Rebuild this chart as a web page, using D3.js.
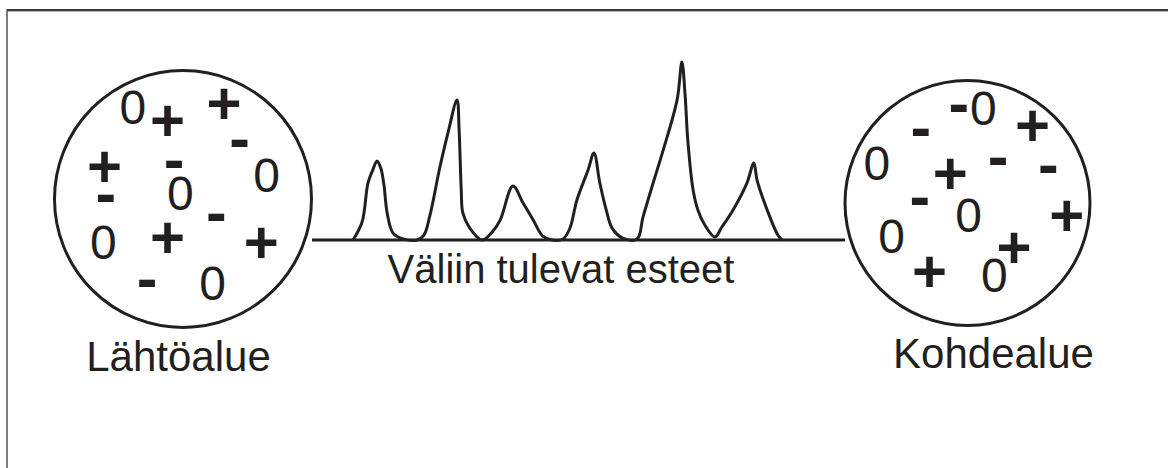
<!DOCTYPE html>
<html><head><meta charset="utf-8">
<script src="https://cdn.jsdelivr.net/npm/d3@7/dist/d3.min.js"></script>
<style>html,body{margin:0;padding:0;background:#fff;}svg{display:block;}</style>
</head><body>
<script>
// ---- data ----
const leftTitle = "Lähtöalue";
const rightTitle = "Kohdealue";
const middleTitle = "Väliin tulevat esteet";

// symbols inside source circle: [glyph, u, v] in circle-normalized units (-1..1, v up)
const leftGlyphs = ["0","+","+","-","+","-","0","-","0","-","0","+","+","-","0"];
const leftU = [-0.39,-0.12,0.32,0.44,-0.61,-0.07,0.65,-0.60,-0.02,0.26,-0.62,-0.12,0.61,-0.28,0.23];
const leftV = [0.72,0.61,0.74,0.44,0.25,0.27,0.19,0.01,0.05,-0.14,-0.33,-0.30,-0.34,-0.65,-0.65];

const rightGlyphs = ["-","0","+","-","0","+","-","-","-","0","+","0","+","+","0"];
const rightU = [-0.07,0.13,0.53,-0.38,-0.74,-0.14,0.25,0.66,-0.39,0.01,0.81,-0.62,0.38,-0.31,0.22];
const rightV = [0.78,0.78,0.63,0.58,0.33,0.24,0.34,0.28,0.02,-0.10,-0.10,-0.27,-0.36,-0.56,-0.59];

// obstacle profile along the connecting line: distance (0..100) and height (0..100)
const ridgeDist = [7.7,9.4,10.5,11.4,12.2,12.9,13.5,14.1,15.2,17.1,19.7,
  21.0,22.1,24.0,25.5,27.2,27.6,28.0,28.3,29.6,31.9,
  33.8,35.3,37.7,39.6,41.5,43.3,45.0,47.1,
  48.4,49.7,51.8,52.9,54.0,55.2,56.3,58.3,61.0,
  62.1,64.0,65.9,68.5,69.4,70.0,70.5,71.5,72.4,73.7,75.6,
  76.9,79.0,81.6,82.9,83.5,85.4,87.4,88.2];
const ridgeHeight = [0,10.1,32.0,39.3,44.4,40.4,30.9,15.2,3.9,0.6,0,
  2.8,13.5,41.0,60.1,78.7,61.8,28.1,15.2,6.7,0,
  4.5,11.2,30.3,20.8,11.2,2.2,0,0.6,
  6.7,22.5,39.3,48.9,32.0,16.9,6.7,1.1,0.6,
  12.9,32.0,50.6,78.7,100,81.5,56.2,28.1,16.9,8.4,1.7,
  7.3,16.9,32.0,43.3,33.7,16.9,2.8,0];

// ---- drawing ----
const W = 1168, H = 468;
const ink = "#231f20";
const svg = d3.select("body").append("svg").attr("width", W).attr("height", H);

// frame (top and left edges)
svg.append("line").attr("x1",7).attr("x2",W).attr("y1",10).attr("y2",10)
  .attr("stroke","#3a3a3a").attr("stroke-width",2);
svg.append("line").attr("x1",7).attr("x2",W).attr("y1",11.5).attr("y2",11.5)
  .attr("stroke","#bbb").attr("stroke-width",1);
svg.append("line").attr("x1",7).attr("x2",7).attr("y1",9).attr("y2",H)
  .attr("stroke","#555").attr("stroke-width",1.5);

const circles = [
  {cx:183, cy:199, r:128.5, g:leftGlyphs, u:leftU, v:leftV, title:leftTitle, tx:178.5, ty:371},
  {cx:967.5, cy:203, r:122.5, g:rightGlyphs, u:rightU, v:rightV, title:rightTitle, tx:993.5, ty:368}
];

// baseline / ridge scales
const x = d3.scaleLinear().domain([0,100]).range([312, 845]);
const y = d3.scaleLinear().domain([0,100]).range([240, 62]);

svg.append("line").attr("x1",x(0)).attr("x2",x(100)).attr("y1",y(0)).attr("y2",y(0))
  .attr("stroke",ink).attr("stroke-width",3);

const pts = ridgeDist.map((d,i)=>[d, ridgeHeight[i]]);
svg.append("path").datum(pts)
  .attr("d", d3.line().x(d=>x(d[0])).y(d=>y(d[1])).curve(d3.curveCatmullRom.alpha(0.5)))
  .attr("fill","none").attr("stroke",ink).attr("stroke-width",3).attr("stroke-linejoin","round");

const glyphStyle = {
  "0": {size:48, weight:"normal", dy:0.358},
  "+": {size:60, weight:"bold", dy:0.34},
  "-": {size:62, weight:"bold", dy:0.26}
};

circles.forEach(c=>{
  svg.append("circle").attr("cx",c.cx).attr("cy",c.cy).attr("r",c.r)
    .attr("fill","none").attr("stroke",ink).attr("stroke-width",3);
  const sx = d3.scaleLinear().domain([-1,1]).range([c.cx-c.r, c.cx+c.r]);
  const sy = d3.scaleLinear().domain([-1,1]).range([c.cy+c.r, c.cy-c.r]);
  const data = c.g.map((g,i)=>({g, u:c.u[i], v:c.v[i]}));
  svg.append("g").selectAll("text").data(data).join("text")
    .attr("x", d=>sx(d.u))
    .attr("y", d=>sy(d.v) + glyphStyle[d.g].dy*glyphStyle[d.g].size)
    .attr("text-anchor","middle")
    .attr("font-family","'Liberation Sans', Arial, sans-serif")
    .attr("font-size", d=>glyphStyle[d.g].size)
    .attr("font-weight", d=>glyphStyle[d.g].weight)
    .attr("fill", ink)
    .text(d=>d.g);
  svg.append("text").attr("x",c.tx).attr("y",c.ty).attr("text-anchor","middle")
    .attr("font-family","'Liberation Sans', Arial, sans-serif").attr("font-size",42)
    .attr("fill",ink).text(c.title);
});

svg.append("text").attr("x",561).attr("y",283).attr("text-anchor","middle")
  .attr("font-family","'Liberation Sans', Arial, sans-serif").attr("font-size",40)
  .attr("fill",ink).text(middleTitle);
</script>
</body></html>
